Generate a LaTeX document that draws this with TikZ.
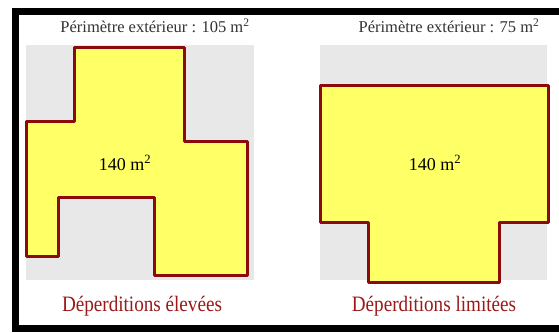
\documentclass[tikz,border=0pt]{standalone}
\usepackage{fontspec}
\setmainfont{Liberation Serif}
\definecolor{wallred}{HTML}{8B0A0A}
\definecolor{labred}{HTML}{9A1A1A}
\definecolor{plotgray}{HTML}{E8E8E8}
\definecolor{houseyellow}{HTML}{FFFF66}
\begin{document}
\begin{tikzpicture}[x=1pt,y=-1pt,
  plot/.style={fill=plotgray,draw=none},
  house/.style={fill=houseyellow,draw=wallred,line width=3pt,line join=round},
  toplabel/.style={font=\fontsize{16.5}{18}\selectfont,text=black!80,inner sep=0pt},
  arealabel/.style={font=\fontsize{18}{20}\selectfont,text=black,inner sep=0pt},
  botlabel/.style={font=\fontsize{22}{24}\selectfont,text=labred,xscale=0.87,inner sep=0pt}]
\useasboundingbox (0,0) rectangle (559,332);
\fill[white] (0,0) rectangle (559,332);
% frame
\draw[line width=7pt] (600,11.5) -- (15.5,11.5) -- (15.5,328.5) -- (600,328.5);
% plots
\fill[plot] (26,45) rectangle (254,280);
\fill[plot] (320,45) rectangle (547,280);
% houses
\draw[house] (74,47) -- (184,47) -- (184,141) -- (247,141) -- (247,275) -- (154,275) -- (154,197) -- (58,197) -- (58,256) -- (26,256) -- (26,121) -- (74,121) -- cycle;
\draw[house] (320,85) -- (548,85) -- (548,222) -- (499,222) -- (499,282) -- (368,282) -- (368,222) -- (320,222) -- cycle;
% labels
\node[toplabel] (t1) at (155,26) {Périmètre extérieur : 105 m\textsuperscript{2}};
\node[toplabel] (t2) at (449,26) {Périmètre extérieur : 75 m\textsuperscript{2}};
\node[arealabel] (a1) at (125,163) {140 m\textsuperscript{2}};
\node[arealabel] (a2) at (435,163) {140 m\textsuperscript{2}};
\node[botlabel] (b1) at (142,306) {Déperditions élevées};
\node[botlabel] (b2) at (434,306) {Déperditions limitées};
\end{tikzpicture}
\end{document}
